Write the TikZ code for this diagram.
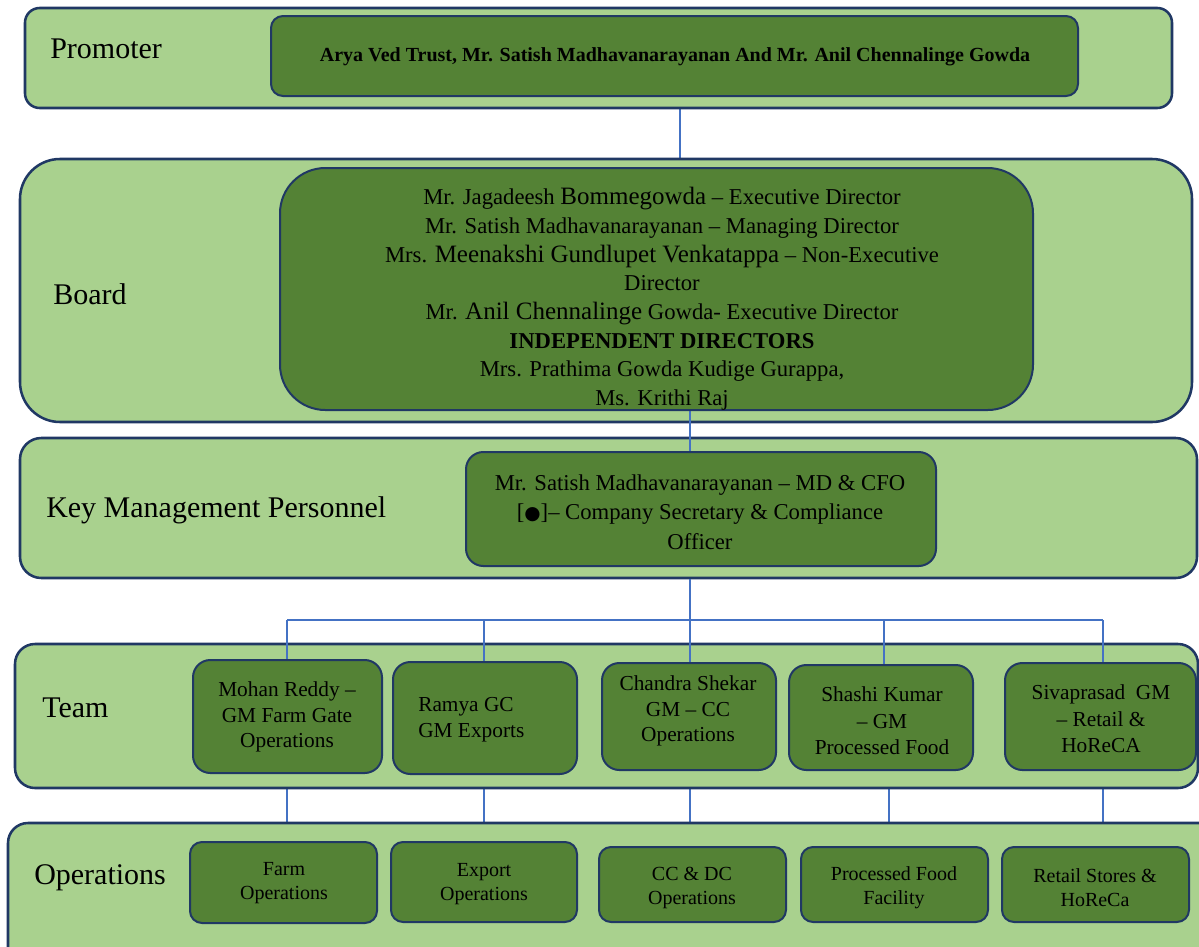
\documentclass[tikz,border=0pt]{standalone}
\usepackage{fontspec}
\setmainfont{Liberation Serif}
\newfontfamily\symfont{DejaVu Sans}
\usetikzlibrary{fit}
\pgfdeclarelayer{hidden}\pgfdeclarelayer{bands}\pgfdeclarelayer{links}
\pgfsetlayers{hidden,bands,links,main}
\definecolor{bandfill}{HTML}{A9D18E}
\definecolor{boxfill}{HTML}{548235}
\definecolor{edgecol}{HTML}{203864}
\definecolor{linkcol}{HTML}{4472C4}
\newcommand\bigw[1]{{\fontsize{18.75}{21.5}\selectfont #1}}
\tikzset{
 band/.style={draw=edgecol, fill=bandfill, line width=1.9pt, inner sep=0pt},
 box/.style={draw=edgecol, fill=boxfill, line width=1.5pt, inner sep=0pt},
 lbl/.style={anchor=west, inner sep=0pt, font=\fontsize{22.5}{27}\selectfont},
 txt/.style={align=center, inner sep=0pt, text=black},
 teamtxt/.style={txt, font=\fontsize{16}{19.3}\selectfont},
 opstxt/.style={txt, font=\fontsize{15}{18}\selectfont},
 link/.style={draw=linkcol, line width=0.8pt},
}
\begin{document}
\begin{tikzpicture}[x=0.75pt,y=-0.75pt]
\useasboundingbox (0,0) rectangle (1199,946);
\clip (0,0) rectangle (1199,946);
\begin{pgfonlayer}{hidden}
\fill[white] (0,0) rectangle (1199,946);
\end{pgfonlayer}

% bands
\begin{pgfonlayer}{bands}
\node[band, rounded corners=11pt, fit={(25,8) (1172,108)}] (promband) {};
\node[band, rounded corners=30pt, fit={(20,159) (1192,422)}] (boardband) {};
\node[band, rounded corners=16pt, fit={(20,438) (1197,578)}] (kmpband) {};
\node[band, rounded corners=15pt, fit={(15,644) (1198,788)}] (teamband) {};
\node[band, rounded corners=15pt, fit={(8,823) (1230,990)}] (opsband) {};
\end{pgfonlayer}

% band labels
\node[lbl] (lprom) at (50,49) {Promoter};
\node[lbl] (lboard) at (53,294) {Board};
\node[lbl] (lkmp) at (46,510) {Key Management Personnel};
\node[lbl] (lteam) at (42,708) {Team};
\node[lbl] (lops) at (34,878) {Operations};

% boxes
\node[box, rounded corners=9pt, fit={(271,16) (1078,96)}] (promb) {};
\node[box, rounded corners=34pt, fit={(280,168) (1033,410)}] (boardb) {};
\node[box, rounded corners=13pt, fit={(466,452) (936,566)}] (kmpb) {};

\node[box, rounded corners=13pt, fit={(193,660) (382,773)}] (t1) {};
\node[box, rounded corners=13pt, fit={(393,662) (577,774)}] (t2) {};
\node[box, rounded corners=13pt, fit={(602,663) (776,770)}] (t3) {};
\node[box, rounded corners=13pt, fit={(789,665) (973,770)}] (t4) {};
\node[box, rounded corners=13pt, fit={(1005,663) (1196,770)}] (t5) {};

\node[box, rounded corners=9pt, fit={(190,842) (377,923)}] (o1) {};
\node[box, rounded corners=9pt, fit={(391,842) (577,922)}] (o2) {};
\node[box, rounded corners=9pt, fit={(599,847) (786,922)}] (o3) {};
\node[box, rounded corners=9pt, fit={(801,847) (988,922)}] (o4) {};
\node[box, rounded corners=9pt, fit={(1002,847) (1189,922)}] (o5) {};

% texts
\node[txt, font=\bfseries\fontsize{15}{18}\selectfont] (promtxt) at (675,57)
  {Arya Ved Trust, Mr. Satish Madhavanarayanan And Mr. Anil Chennalinge Gowda};
\node[txt, font=\fontsize{17}{21.5}\selectfont] (boardtxt) at (662,299)
  {Mr. Jagadeesh \bigw{Bommegowda} -- Executive Director\\
   Mr. Satish Madhavanarayanan -- Managing Director\\
   Mrs. \bigw{Meenakshi Gundlupet Venkatappa} -- Non-Executive\\
   Director\\
   Mr. \bigw{Anil Chennalinge} Gowda- Executive Director\\
   \textbf{INDEPENDENT DIRECTORS}\\
   Mrs. Prathima Gowda Kudige Gurappa,\\
   Ms. Krithi Raj};
\node[txt, font=\fontsize{17}{22}\selectfont] (kmptxt) at (700,512)
  {Mr. Satish Madhavanarayanan -- MD \& CFO\\
   \relax[{\symfont\fontsize{14}{14}\selectfont ●}]-- Company Secretary \& Compliance\\
   Officer};

\node[teamtxt] (tt1) at (287,717) {Mohan Reddy --\\GM Farm Gate\\Operations};
\node[teamtxt, align=left, anchor=west] (tt2) at (418,720) {Ramya GC\\GM Exports};
\node[teamtxt] (tt3) at (688,711) {Chandra Shekar\\GM -- CC\\Operations};
\node[teamtxt, font=\fontsize{16}{20}\selectfont] (tt4) at (882,721) {Shashi Kumar\\-- GM\\Processed Food};
\node[teamtxt, font=\fontsize{16}{20}\selectfont] (tt5) at (1101,719) {Sivaprasad~ GM\\-- Retail \&\\HoReCA};

\node[opstxt] (ot1) at (284,883) {Farm\\Operations};
\node[opstxt] (ot2) at (484,884) {Export\\Operations};
\node[opstxt] (ot3) at (692,888) {CC \& DC\\Operations};
\node[opstxt] (ot4) at (894,888) {Processed Food\\Facility};
\node[opstxt] (ot5) at (1095,888) {Retail Stores \&\\HoReCa};

% connector coordinates
\coordinate (cp) at (680,0);
\coordinate (cb) at (690,0);
\coordinate (bus) at (690,620);
\coordinate (d1) at (287,620);
\coordinate (d2) at (484,620);
\coordinate (d4) at (884,620);
\coordinate (d5) at (1103,620);
\coordinate (e1) at (287,0);
\coordinate (e2) at (484,0);
\coordinate (e3) at (690,0);
\coordinate (e4) at (889,0);
\coordinate (e5) at (1103,0);

\begin{pgfonlayer}{hidden}
\draw[link] (promb.south -| cp) -- (boardb.north -| cp);
\draw[link] (t1.south -| e1) -- (o1.north -| e1);
\draw[link] (t2.south -| e2) -- (o2.north -| e2);
\draw[link] (t3.south -| e3) -- (o3.north -| e3);
\draw[link] (t4.south -| e4) -- (o4.north -| e4);
\draw[link] (t5.south -| e5) -- (o5.north -| e5);
\end{pgfonlayer}

\begin{pgfonlayer}{links}
\draw[link] (boardb.south -| cb) -- (kmpb.north -| cb);
\draw[link] (kmpband.south -| bus) -- (bus);
\draw[link] (d1) -- (d5);
\draw[link] (d1) -- (t1.north -| d1);
\draw[link] (d2) -- (t2.north -| d2);
\draw[link] (bus) -- (t3.north -| bus);
\draw[link] (d4) -- (t4.north -| d4);
\draw[link] (d5) -- (t5.north -| d5);
\end{pgfonlayer}
\end{tikzpicture}
\end{document}
